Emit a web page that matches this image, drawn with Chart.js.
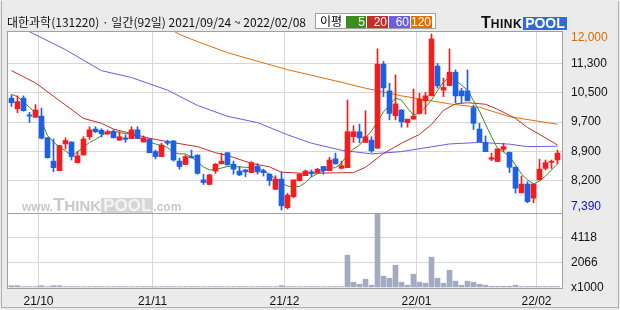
<!DOCTYPE html>
<html><head><meta charset="utf-8">
<script src="https://cdn.jsdelivr.net/npm/chart.js@4/dist/chart.umd.min.js"></script>
<style>
html,body{margin:0;padding:0;background:#ebebeb;}
#wrap{position:relative;width:620px;height:310px;overflow:hidden;background:#ebebeb;}
#c{position:absolute;left:0;top:0;}
#frame{position:absolute;left:1px;top:1px;width:616px;height:306px;border:1px solid #b0b0b0;border-top:none;pointer-events:none;}
.title{position:absolute;left:7px;top:15px;font:12px "Noto Sans CJK KR";line-height:14px;color:#111;white-space:nowrap;}
.legend{position:absolute;left:315px;top:13px;width:121px;height:16px;box-sizing:border-box;background:#fff;border:1px solid #a0a0a0;}
.legend .lab{position:absolute;left:4px;top:0px;font:12px "Noto Sans CJK KR";line-height:14px;color:#000;}
.legend .bx{position:absolute;top:2px;height:12px;font:12px "Liberation Sans";line-height:12px;color:#fff;text-align:right;box-sizing:border-box;padding-right:1px;}
.logo{position:absolute;left:481px;top:14px;height:16px;white-space:nowrap;font-family:"Liberation Sans";font-weight:bold;}
.logo .t1{font-size:16px;color:#111;}
.logo .t2{font-size:12px;color:#111;letter-spacing:0.5px;}
.logo .pool{display:inline-block;background:#2f6ad8;color:#fff;font-size:14px;padding:0 2px;line-height:13px;margin-left:1px;}
.wm{position:absolute;left:22px;top:194px;white-space:nowrap;font-family:"Liberation Sans";font-weight:bold;color:#c8c8c8;}
.wm .s{font-size:12px;}
.wm .b1{font-size:19px;}
.wm .b2{font-size:15px;}
.wm .pool{display:inline-block;background:#d6d6d6;color:#f4f4f4;font-size:17px;padding:0 2px;line-height:15px;}
</style></head>
<body>
<div id="wrap">
<canvas id="c" width="620" height="310"></canvas>
<div id="frame"></div>
<div class="title">대한과학(131220) · 일간(92일) 2021/09/24 ~ 2022/02/08</div>
<div class="legend"><span class="lab">이평</span>
<span class="bx" style="left:30px;width:20px;background:#3c8c1e">5</span>
<span class="bx" style="left:51px;width:21px;background:#c42d28">20</span>
<span class="bx" style="left:73px;width:21px;background:#6a5de0">60</span>
<span class="bx" style="left:95px;width:21px;background:#e07008">120</span>
</div>
<div class="logo"><span class="t1">T</span><span class="t2">HINK</span><span class="pool">POOL</span></div>
<div class="wm"><span class="s">www.</span><span class="b1">T</span><span class="b2">HINK</span><span class="pool">POOL</span><span class="s">.com</span></div>
</div>
<script>
// ---- data ----
const monthLabels = ['21/10','21/11','21/12','22/01','22/02'];
const monthStarts = [5, 24, 46, 68, 88];   // index of first trading day of each month

const opens  = [10320,10040,10320,9880,9820,9850,9280,8670,8420,9120,9170,8630,8830,9310,9510,9480,9380,9440,9220,9280,9260,9490,9170,9250,8920,8790,9180,9200,8670,8580,8790,8830,8180,8060,8410,8600,8890,8590,8410,8440,8370,8540,8420,8330,7930,8200,7450,7740,8160,8290,8390,8370,8530,8420,8730,8480,8500,9310,9440,9160,9220,9010,11210,10510,9860,10010,9680,9770,9920,10250,10380,11160,10530,10650,11000,10510,10510,10070,9510,9160,8720,8660,8980,8900,8510,7840,8070,7700,8180,8480,8640,8700];
const highs  = [10400,10380,10380,9950,10150,10060,9290,9250,9080,9280,9180,8920,9310,9570,9570,9520,9480,9490,9440,9360,9570,9570,9330,9260,8960,9140,9220,9210,8750,8830,8960,8830,8330,8330,8610,8880,8900,8670,8530,8450,8660,8610,8460,8340,8290,8390,7830,8180,8340,8440,8440,8480,8530,8770,8880,8670,10270,9600,9640,9990,9310,11610,11280,10710,10930,10020,9770,10560,10450,10470,12000,11230,10840,11610,11060,10580,11060,10140,9660,9330,8880,8990,9140,8910,8520,8280,8130,8070,8720,8700,8700,8960];
const lows   = [10100,9940,9980,9680,9810,9250,8750,8390,8420,8990,8700,8620,8830,9240,9420,9300,9380,9280,9220,9160,9260,9260,9170,8890,8730,8790,9090,8670,8460,8580,8750,8330,8060,8050,8350,8600,8570,8330,8290,8260,8370,8330,8280,8030,7930,7390,7420,7710,8150,8290,8260,8370,8330,8420,8590,8480,8500,9160,9150,9160,8900,9000,10360,9750,9750,9560,9560,9770,9900,9900,10380,10580,10360,10640,10200,10200,10250,9500,9180,8920,8680,8660,8920,8370,7830,7840,7580,7580,8170,8440,8480,8600];
const closes = [10200,10230,9990,9850,10010,9270,8760,8500,9080,9210,8790,8810,9250,9490,9440,9390,9440,9280,9310,9240,9490,9260,9280,8890,8790,9090,9140,8700,8530,8790,8760,8350,8110,8310,8590,8670,8570,8460,8310,8390,8630,8390,8370,8160,8200,7500,7780,8180,8330,8410,8350,8460,8420,8700,8600,8550,9440,9440,9280,9310,8940,11210,10590,9920,10170,9700,9770,9850,10290,10380,11870,10640,10600,11000,10380,10380,10250,9660,9180,8920,8760,8990,9050,8510,7960,8070,7610,8070,8460,8630,8670,8880];
const volumes = [150,150,70,70,70,150,70,150,150,70,70,70,70,70,70,70,70,70,70,70,70,70,70,70,70,70,70,70,70,70,70,70,70,70,70,70,70,70,70,70,70,70,70,70,70,150,70,70,70,70,70,70,70,70,70,70,2650,435,270,680,190,6020,930,760,1830,435,190,1090,435,350,2490,760,350,1420,520,190,520,435,270,190,100,100,100,100,190,80,80,80,80,80,80,80];

const ma5 = [10420,10360,10220,10080,9930,9720,9340,9170,9040,8940,8800,8910,9040,9160,9240,9340,9420,9460,9420,9390,9380,9300,9220,9170,9120,9080,9030,8900,8860,8860,8780,8640,8520,8440,8450,8490,8530,8530,8520,8510,8500,8490,8420,8320,8210,8100,8020,7990,8010,8110,8260,8340,8420,8480,8500,8620,8840,8990,9090,9280,9460,9700,9960,10140,10320,10270,10060,9880,9930,10080,10270,10510,10740,10870,10800,10660,10530,10250,9980,9640,9310,9010,8910,8800,8570,8330,8180,8070,8150,8280,8440,8600];
const ma20Idx = [0,4,9,12,15,17,23,26,31,34,36,40,43,45,49,57,59,62,65,68,70,72,74,76,79,81,84,86,89,91];
const ma20Val = [11040,10720,10140,9790,9660,9510,9270,9180,9050,8890,8820,8610,8520,8380,8350,8370,8510,8870,9140,9370,9630,10000,10170,10200,10160,10030,9790,9550,9280,9090];
const ma60Idx = [3,9,15,20,26,31,36,41,46,50,55,60,65,73,78,83,86,91];
const ma60Val = [12060,11590,11040,10860,10530,10130,9845,9680,9360,9140,8955,8860,8920,9120,9160,9115,9050,9060];
const ma120Idx = [27,28,31,36,46,55,59,65,73,78,83,91];
const ma120Val = [12080,11990,11800,11510,11065,10735,10580,10380,10170,10080,9835,9635];

const priceTickLabels = ['7,390','8,200','8,900','9,700','10,500','11,300','12,000'];
const priceLow = 7390, priceHigh = 12000;
const volTickValues = [0, 2066, 4118];
const volTickLabels = ['x1000','2066','4118'];

// ---- styles ----
const UP = '#f01e1e', DOWN = '#1f5fe3';
const HIGH_COLOR = '#d46a00', LOW_COLOR = '#1010c8';
const candleColors = closes.map((c, i) => c >= opens[i] ? UP : DOWN);
const pts = (idx, val) => idx.map((x, k) => ({x, y: val[k]}));
const AXIS_FONT = {family: 'Liberation Sans', size: 12};

const framePlugin = {
  id: 'frame',
  beforeDraw(chart) {
    const {ctx, chartArea: a} = chart;
    ctx.save();
    ctx.fillStyle = '#ffffff';
    ctx.fillRect(a.left, a.top, a.right - a.left, a.bottom - a.top);
    ctx.restore();
  },
  afterDraw(chart) {
    const {ctx, chartArea: a} = chart;
    const ys = chart.scales.y;
    const sep = chart.scales.yv.top;
    ctx.save();
    ctx.strokeStyle = '#a0a0a0';
    ctx.lineWidth = 1;
    ctx.strokeRect(a.left - 0.5, a.top - 0.5, a.right - a.left + 1, a.bottom - a.top + 1);
    ctx.beginPath();
    ctx.moveTo(a.left, Math.round(sep) + 0.5);
    ctx.lineTo(a.right, Math.round(sep) + 0.5);
    ctx.stroke();
    // extreme price labels, kept inside the price panel
    ctx.font = '12px "Liberation Sans"';
    ctx.textAlign = 'left';
    ctx.textBaseline = 'middle';
    const lx = a.right + 9;
    const clampY = v => Math.min(Math.max(ys.getPixelForValue(v), ys.top + 6), ys.bottom - 6);
    ctx.fillStyle = HIGH_COLOR;
    ctx.fillText(priceTickLabels[6], lx, clampY(priceHigh));
    ctx.fillStyle = LOW_COLOR;
    ctx.fillText(priceTickLabels[0], lx, clampY(priceLow));
    ctx.restore();
  }
};

new Chart(document.getElementById('c'), {
  data: {
    datasets: [
      {type: 'bar', label: 'body', order: 0, grouped: false, barThickness: 5, minBarLength: 1,
       data: opens.map((o, i) => ({x: i, y: [o, closes[i]]})), backgroundColor: candleColors, yAxisID: 'y'},
      {type: 'bar', label: 'wick', order: 1, grouped: false, barThickness: 1,
       data: lows.map((l, i) => ({x: i, y: [l, highs[i]]})), backgroundColor: candleColors, yAxisID: 'y'},
      {type: 'line', label: 'MA5', order: 2, data: ma5.map((v, i) => ({x: i, y: v})), borderColor: '#3c8c1e', borderWidth: 1, pointRadius: 0, tension: 0, yAxisID: 'y'},
      {type: 'line', label: 'MA20', order: 3, data: pts(ma20Idx, ma20Val), borderColor: '#c42d28', borderWidth: 1, pointRadius: 0, tension: 0, yAxisID: 'y'},
      {type: 'line', label: 'MA60', order: 4, data: pts(ma60Idx, ma60Val), borderColor: '#6a5de0', borderWidth: 1, pointRadius: 0, tension: 0, yAxisID: 'y'},
      {type: 'line', label: 'MA120', order: 5, data: pts(ma120Idx, ma120Val), borderColor: '#e07008', borderWidth: 1, pointRadius: 0, tension: 0, yAxisID: 'y'},
      {type: 'bar', label: 'vol', order: 6, grouped: false, barThickness: 5,
       data: volumes.map((v, i) => ({x: i, y: v})), backgroundColor: '#a3abc3', yAxisID: 'yv'}
    ]
  },
  options: {
    responsive: false, animation: false, devicePixelRatio: 1, events: [],
    layout: {padding: {left: 8, top: 32, right: 0, bottom: 0}},
    plugins: {legend: {display: false}, tooltip: {enabled: false}},
    scales: {
      x: {
        type: 'linear', min: -0.5833, max: 91.75, position: 'bottom', offset: false,
        afterBuildTicks: s => { s.ticks = monthStarts.map(i => ({value: i - 0.5})); },
        afterFit: s => { s.height = 22; },
        ticks: {callback: (v, i) => monthLabels[i], autoSkip: false, maxRotation: 0, padding: 6, color: '#111', font: AXIS_FONT},
        grid: {color: '#d6d6d6', drawTicks: false, offset: false},
        border: {display: false}
      },
      y: {
        type: 'linear', position: 'right', stack: 'panels', stackWeight: 181,
        min: 7312, max: 12052,
        afterBuildTicks: s => { s.ticks = priceTickLabels.map((_, k) => ({value: priceLow + k * (priceHigh - priceLow) / 6})); },
        afterFit: s => { s.width = 58; },
        ticks: {callback: (v, i) => priceTickLabels[i], padding: 9, font: AXIS_FONT, autoSkip: false,
                color: ctx => (ctx.index === 6 || ctx.index === 0) ? 'rgba(0,0,0,0)' : '#111'},
        grid: {drawTicks: false, color: ctx => (ctx.index === 0 || ctx.index === 6) ? 'rgba(0,0,0,0)' : '#d6d6d6'},
        border: {display: false}
      },
      yv: {
        type: 'linear', position: 'right', stack: 'panels', stackWeight: 75,
        min: -41, max: 6115,
        afterBuildTicks: s => { s.ticks = volTickValues.map(v => ({value: v})); },
        afterFit: s => { s.width = 58; },
        ticks: {callback: (v, i) => volTickLabels[i], padding: 9, font: AXIS_FONT, color: '#111', autoSkip: false},
        grid: {drawTicks: false, color: ctx => ctx.index === 0 ? 'rgba(0,0,0,0)' : '#d6d6d6'},
        border: {display: false}
      }
    }
  },
  plugins: [framePlugin]
});
</script>
</body></html>
